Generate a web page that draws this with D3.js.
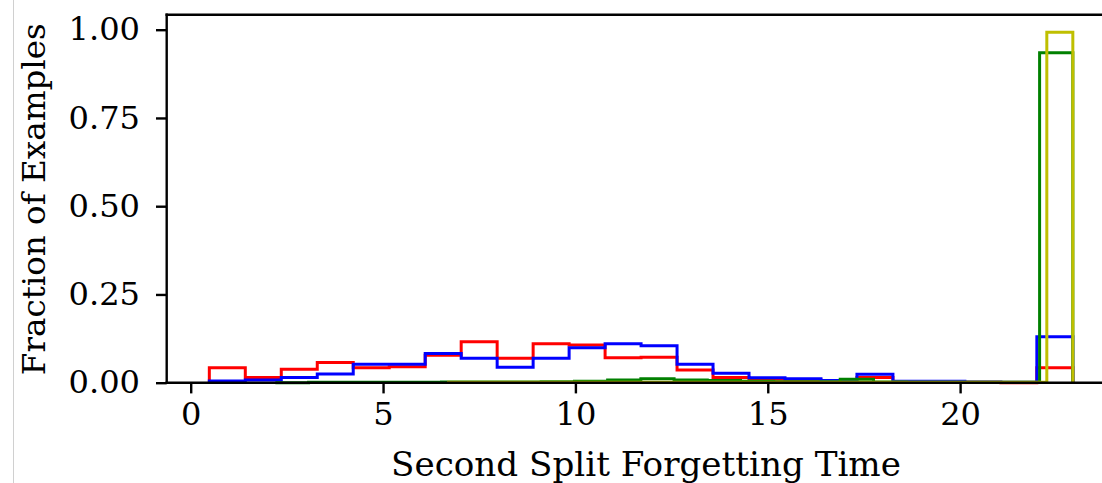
<!DOCTYPE html>
<html>
<head>
<meta charset="utf-8">
<script src="https://cdn.jsdelivr.net/npm/d3@7"></script>
<style>
  html, body { margin: 0; padding: 0; background: #fff; }
  svg { display: block; }
  text { font-family: "DejaVu Serif", serif; }
</style>
</head>
<body>
<svg id="chart" width="1102" height="483"></svg>
<script>
// ---- data (bin ranges in data units, fractions per bin) ----
const redRange = [0.484, 22.93];
const redValues = [0.042, 0.015, 0.038, 0.057, 0.042, 0.045, 0.078, 0.116, 0.069, 0.110, 0.107, 0.071,
                   0.072, 0.036, 0.015, 0.010, 0.008, 0.004, 0.015, 0.003, 0.002, 0.001, 0.000, 0.042];
const blueRange = [0.484, 22.93];
const blueValues = [0.005, 0.008, 0.015, 0.025, 0.052, 0.052, 0.083, 0.069, 0.044, 0.069, 0.099, 0.110,
                    0.105, 0.052, 0.027, 0.014, 0.011, 0.006, 0.024, 0.004, 0.004, 0.002, 0.001, 0.130];
const greenRange = [2.2, 22.93];
const greenValues = [0.000, 0.001, 0.001, 0.001, 0.001, 0.002, 0.002, 0.002, 0.003, 0.004, 0.008, 0.011,
                     0.008, 0.006, 0.004, 0.003, 0.003, 0.010, 0.002, 0.001, 0.001, 0.001, 0.001, 0.935];
const yellowRange = [6.7, 22.93];
const yellowValues = [0.001, 0.001, 0.001, 0.001, 0.001, 0.001, 0.001, 0.001, 0.001, 0.001, 0.001, 0.001,
                      0.001, 0.001, 0.001, 0.001, 0.001, 0.001, 0.001, 0.001, 0.001, 0.001, 0.001, 0.993];
const xTicks = [0, 5, 10, 15, 20];
const yTicks = [0.00, 0.25, 0.50, 0.75, 1.00];
const xLabel = "Second Split Forgetting Time";
const yLabel = "Fraction of Examples";

const series = [
  { range: redRange, values: redValues, color: "#ff0000" },
  { range: blueRange, values: blueValues, color: "#0000ff" },
  { range: greenRange, values: greenValues, color: "#008000" },
  { range: yellowRange, values: yellowValues, color: "#bfbf00" }
];

// ---- layout ----
const svg = d3.select("#chart");
const L = 166.7, R = 1116.3, T = 14.7, B = 382.7;
const x = d3.scaleLinear().domain([-0.624, 24.06]).range([L, R]);
const y = d3.scaleLinear().domain([0, 1.0425]).range([B, T]);

// fit a font size so a text reaches a target advance length
function fitSize(str, target) {
  const t = svg.append("text").style("font-size", "100px").text(str);
  const len = t.node().getComputedTextLength();
  t.remove();
  return 100 * target / len;
}
const FS_TICK = fitSize("1.00", 71.5);
const FS_Y = fitSize(yLabel, 352);
const FS_X = fitSize(xLabel, 510);

// screenshot frame line at the left
svg.append("line").attr("x1", 13.5).attr("x2", 13.5).attr("y1", 0).attr("y2", 483)
  .attr("stroke", "#d0d0d0").attr("stroke-width", 1);

// histograms (step)
const line = d3.line().x(d => x(d[0])).y(d => y(d[1]));
const plot = svg.append("g");
series.forEach(s => {
  const n = s.values.length;
  const edges = d3.range(n + 1).map(i => s.range[0] + (s.range[1] - s.range[0]) * i / n);
  const pts = [[edges[0], 0]];
  s.values.forEach((v, i) => { pts.push([edges[i], v]); pts.push([edges[i + 1], v]); });
  pts.push([edges[n], 0]);
  plot.append("path").attr("d", line(pts)).attr("fill", "none")
    .attr("stroke", s.color).attr("stroke-width", 3).attr("stroke-linejoin", "miter");
});

// axes
const xAxis = d3.axisBottom(x).tickValues(xTicks).tickFormat(d3.format("d"))
  .tickSize(10.7).tickPadding(9).tickSizeOuter(0);
const yAxis = d3.axisLeft(y).tickValues(yTicks).tickFormat(d3.format(".2f"))
  .tickSize(10.7).tickPadding(16).tickSizeOuter(0);

const gx = svg.append("g").attr("transform", `translate(0,${B})`).call(xAxis);
const gy = svg.append("g").attr("transform", `translate(${L},0)`).call(yAxis);
[gx, gy].forEach(g => {
  g.select(".domain").remove();
  g.selectAll(".tick line").attr("stroke", "#000").attr("stroke-width", 2.4);
  g.selectAll(".tick text").attr("fill", "#000").style("font-size", FS_TICK + "px")
    .style("font-family", "'DejaVu Serif', serif");
});

// spines
const sp = svg.append("g").attr("stroke", "#000").attr("stroke-width", 2.4).attr("fill", "none");
sp.append("line").attr("x1", L).attr("x2", L).attr("y1", T).attr("y2", B).attr("stroke-linecap", "square");
sp.append("line").attr("x1", L).attr("x2", R).attr("y1", B).attr("y2", B).attr("stroke-linecap", "square");
sp.append("line").attr("x1", L).attr("x2", R).attr("y1", T).attr("y2", T).attr("stroke-linecap", "square");
sp.append("line").attr("x1", R).attr("x2", R).attr("y1", T).attr("y2", B);

// labels
svg.append("text").attr("x", 646).attr("y", 476).attr("text-anchor", "middle")
  .style("font-size", FS_X + "px").attr("fill", "#000").text(xLabel);
svg.append("text").attr("transform", `translate(45,${(T + B) / 2 + 0.5}) rotate(-90)`)
  .attr("text-anchor", "middle").style("font-size", FS_Y + "px").attr("fill", "#000").text(yLabel);
</script>
</body>
</html>
